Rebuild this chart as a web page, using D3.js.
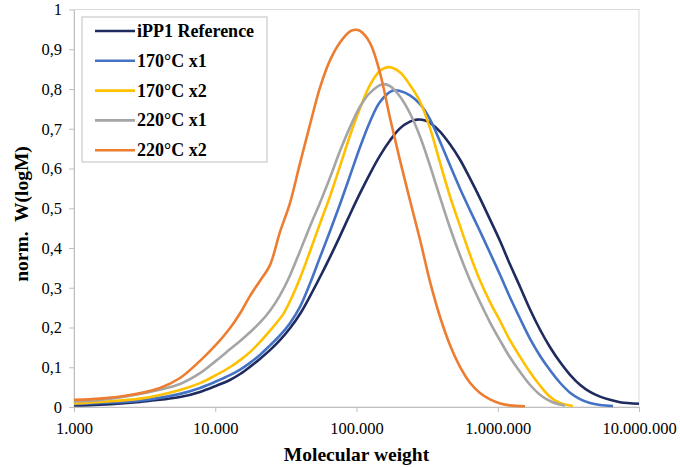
<!DOCTYPE html>
<meta charset="utf-8">
<style>
    body { margin: 0; background: #fff; }
    .line { fill: none; stroke-width: 2.6px; }
    .axis path, .axis line { stroke: #bfbfbf; }
    .axis text { font-family: "Liberation Serif", "Times New Roman", Times, "DejaVu Serif", serif; font-size: 16.5px; fill: #000; }
    .axis-title { font-family: "Liberation Serif", "Times New Roman", Times, "DejaVu Serif", serif; font-size: 19.5px; font-weight: bold; fill: #000; }
    .legend text { font-family: "Liberation Serif", "Times New Roman", Times, "DejaVu Serif", serif; font-size: 18px; font-weight: bold; fill: #000; }
</style>
<svg width="680" height="467"></svg>
<script src="https://d3js.org/d3.v7.min.js"></script>
<script>
// series names and colours
const seriesNames = ["iPP1 Reference", "170°C x1", "170°C x2", "220°C x1", "220°C x2"];
const seriesColors = ["#1f2b5e", "#4472c4", "#ffc000", "#a5a5a5", "#ed7d31"];

// [molecular weight, norm. W(logM)]
const iPP1Reference = [[1000,0.004],[1530,0.006],[2930,0.013],[5630,0.025],[7800,0.038],[10100,0.053],[12700,0.068],[15000,0.083],[17600,0.101],[20700,0.121],[24400,0.143],[28700,0.168],[33800,0.198],[39800,0.234],[46900,0.279],[55200,0.327],[64900,0.377],[76400,0.430],[90000,0.485],[106000,0.538],[125000,0.588],[147000,0.633],[173000,0.671],[203000,0.701],[239000,0.718],[268000,0.723],[306000,0.721],[331000,0.715],[390000,0.693],[459000,0.661],[541000,0.622],[636000,0.575],[749000,0.525],[881000,0.472],[1040000,0.417],[1220000,0.359],[1440000,0.302],[1690000,0.246],[1990000,0.195],[2340000,0.151],[2760000,0.113],[3250000,0.081],[3820000,0.056],[4500000,0.038],[5300000,0.026],[6230000,0.018],[7340000,0.012],[10000000,0.008]];
const t170x1 = [[1000,0.007],[1530,0.010],[2930,0.016],[5630,0.033],[7800,0.048],[10100,0.064],[12700,0.080],[15000,0.094],[17600,0.111],[20700,0.131],[24400,0.155],[28700,0.180],[33800,0.211],[39800,0.252],[46900,0.311],[55200,0.377],[64900,0.442],[76400,0.510],[90000,0.582],[106000,0.654],[125000,0.719],[147000,0.768],[181000,0.796],[203000,0.795],[239000,0.784],[282000,0.762],[331000,0.724],[390000,0.668],[459000,0.608],[541000,0.549],[636000,0.495],[749000,0.442],[881000,0.388],[1040000,0.332],[1220000,0.276],[1440000,0.222],[1690000,0.172],[1990000,0.129],[2340000,0.093],[2760000,0.061],[3250000,0.036],[3820000,0.020],[4500000,0.010],[5300000,0.005],[6550000,0.0025]];
const t170x2 = [[1000,0.009],[1530,0.013],[2930,0.021],[5630,0.043],[7800,0.060],[10100,0.080],[12700,0.100],[15000,0.118],[17600,0.138],[20700,0.163],[24400,0.192],[30200,0.233],[33800,0.266],[39800,0.324],[46900,0.392],[55200,0.462],[64900,0.530],[76400,0.606],[90000,0.683],[106000,0.752],[125000,0.811],[147000,0.846],[170000,0.855],[203000,0.842],[239000,0.810],[282000,0.768],[331000,0.702],[390000,0.615],[459000,0.530],[541000,0.455],[636000,0.383],[749000,0.318],[881000,0.264],[1040000,0.216],[1220000,0.168],[1440000,0.126],[1690000,0.088],[1990000,0.054],[2340000,0.026],[2760000,0.010],[3410000,0.0025]];
const t220x1 = [[1000,0.014],[1530,0.018],[2930,0.033],[5630,0.058],[7800,0.085],[10100,0.116],[12700,0.145],[15000,0.166],[17600,0.188],[20700,0.212],[24400,0.242],[28700,0.281],[33800,0.331],[39800,0.392],[46900,0.455],[55200,0.514],[64900,0.577],[76400,0.644],[90000,0.704],[106000,0.756],[125000,0.791],[154000,0.812],[173000,0.807],[203000,0.781],[239000,0.739],[282000,0.680],[331000,0.608],[390000,0.528],[459000,0.451],[541000,0.381],[636000,0.319],[749000,0.264],[881000,0.213],[1040000,0.167],[1220000,0.125],[1440000,0.088],[1690000,0.056],[1990000,0.031],[2340000,0.015],[2760000,0.006],[2990000,0.003]];
const t220x2 = [[1000,0.018],[1530,0.021],[2490,0.030],[4060,0.048],[5630,0.073],[7800,0.116],[10100,0.156],[12700,0.198],[15000,0.236],[17600,0.279],[20700,0.317],[24400,0.357],[28700,0.440],[33800,0.513],[39800,0.613],[46900,0.711],[55200,0.804],[64900,0.872],[76400,0.917],[90000,0.945],[98000,0.949],[106000,0.946],[125000,0.915],[147000,0.839],[173000,0.726],[203000,0.621],[239000,0.520],[282000,0.420],[331000,0.316],[390000,0.227],[459000,0.156],[541000,0.101],[636000,0.061],[749000,0.035],[881000,0.019],[1040000,0.009],[1220000,0.004],[1560000,0.002]];

const xTicks = [1000, 10000, 100000, 1000000, 10000000];
const xTickLabels = ["1.000", "10.000", "100.000", "1.000.000", "10.000.000"];
const yTicks = [0, 0.1, 0.2, 0.3, 0.4, 0.5, 0.6, 0.7, 0.8, 0.9, 1];
const yTickLabels = ["0", "0,1", "0,2", "0,3", "0,4", "0,5", "0,6", "0,7", "0,8", "0,9", "1"];

const allSeries = [iPP1Reference, t170x1, t170x2, t220x1, t220x2];

const svg = d3.select("svg");
const plot = { left: 74, right: 639, top: 9.5, bottom: 407 };

const x = d3.scaleLog().domain([1000, 10000000]).range([plot.left, plot.right]);
const y = d3.scaleLinear().domain([0, 1]).range([plot.bottom, plot.top]);

// plot area border
svg.append("rect")
    .attr("x", plot.left).attr("y", plot.top)
    .attr("width", plot.right - plot.left).attr("height", plot.bottom - plot.top)
    .attr("fill", "none").attr("stroke", "#d9d9d9");

// axes
svg.append("g")
    .attr("class", "axis")
    .attr("transform", `translate(0,${plot.bottom})`)
    .call(d3.axisBottom(x).tickValues(xTicks).tickSize(5).tickSizeOuter(0)
        .tickFormat((d, i) => xTickLabels[i]))
    .selectAll("text").attr("dy", "1.15em");

svg.append("g")
    .attr("class", "axis")
    .attr("transform", `translate(${plot.left},0)`)
    .call(d3.axisLeft(y).tickValues(yTicks).tickSize(5).tickSizeOuter(0)
        .tickFormat((d, i) => yTickLabels[i]))
    .selectAll("text").attr("x", -12);

// lines
const line = d3.line()
    .x(d => x(d[0]))
    .y(d => y(d[1]))
    .curve(d3.curveCatmullRom.alpha(0.5));

allSeries.forEach((s, i) => {
    svg.append("path")
        .datum(s)
        .attr("class", "line")
        .attr("stroke", seriesColors[i])
        .attr("d", line);
});

// axis titles
svg.append("text")
    .attr("class", "axis-title")
    .attr("x", (plot.left + plot.right) / 2)
    .attr("y", 461)
    .attr("text-anchor", "middle")
    .text("Molecular weight");

svg.append("text")
    .attr("class", "axis-title")
    .attr("transform", "rotate(-90)")
    .attr("x", -214)
    .attr("y", 28)
    .attr("text-anchor", "middle")
    .attr("xml:space", "preserve")
    .text("norm.  W(logM)");

// legend
const legend = svg.append("g").attr("class", "legend");
legend.append("rect")
    .attr("x", 82).attr("y", 17)
    .attr("width", 185).attr("height", 145)
    .attr("fill", "#fff").attr("stroke", "#bfbfbf");

seriesNames.forEach((name, i) => {
    const ly = 31 + i * 29.8;
    legend.append("line")
        .attr("x1", 95).attr("x2", 135)
        .attr("y1", ly).attr("y2", ly)
        .attr("stroke", seriesColors[i])
        .attr("stroke-width", 2.6);
    legend.append("text")
        .attr("x", 137)
        .attr("y", ly + 6)
        .text(name);
});
</script>
